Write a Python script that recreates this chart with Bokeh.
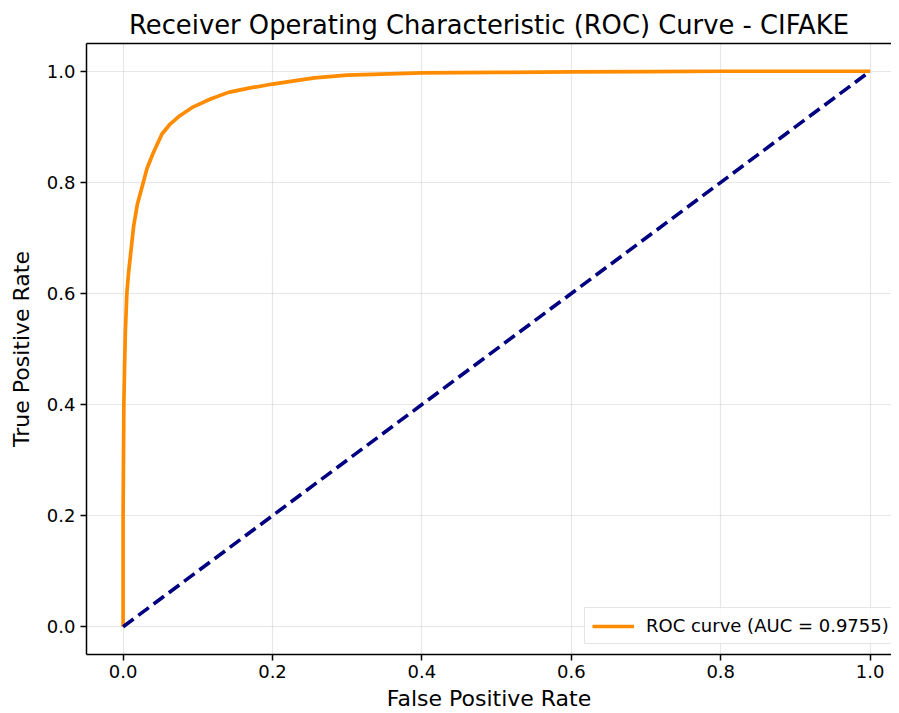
from bokeh.plotting import figure
from bokeh.models import FixedTicker, PrintfTickFormatter, LinearAxis, Legend, LegendItem
from bokeh.embed import file_html
from bokeh.resources import INLINE

# ---- data ----
fpr = [0.0, 0.0, 0.0005, 0.001, 0.002, 0.003, 0.005, 0.0075, 0.010, 0.014, 0.019,
       0.025, 0.032, 0.040, 0.052, 0.063, 0.076, 0.094, 0.117, 0.141, 0.170, 0.200,
       0.256, 0.300, 0.345, 0.400, 0.500, 0.600, 0.700, 0.800, 0.900, 1.0]
tpr = [0.0, 0.20, 0.30, 0.40, 0.47, 0.53, 0.60, 0.64, 0.67, 0.72, 0.76,
       0.79, 0.825, 0.852, 0.887, 0.905, 0.920, 0.936, 0.950, 0.962, 0.970, 0.977,
       0.988, 0.993, 0.995, 0.997, 0.998, 0.999, 0.9995, 1.0, 1.0, 1.0]
diag_x = [0.0, 1.0]
diag_y = [0.0, 1.0]
ticks = [0.0, 0.2, 0.4, 0.6, 0.8, 1.0]
auc_value = 0.9755
title_text = "Receiver Operating Characteristic (ROC) Curve - CIFAKE"
x_label = "False Positive Rate"
y_label = "True Positive Rate"

FONT = "DejaVu Sans"

p = figure(width=891, height=713, output_backend="svg", toolbar_location=None,
           x_range=(-0.049, 1.0286), y_range=(-0.05, 1.05),
           min_border_left=86, min_border_right=0, min_border_top=43, min_border_bottom=55,
           title=title_text)
p.outline_line_color = None
p.background_fill_color = "white"
p.border_fill_color = "white"

p.title.text_font = FONT
p.title.text_font_size = "25.8px"
p.title.text_font_style = "normal"
p.title.align = "center"
p.title.standoff = 7
p.title.offset = 12
p.title.text_color = "black"

roc = p.line(fpr, tpr, line_color="#ff8c00", line_width=3.7)
p.line(diag_x, diag_y, line_color="#000080", line_width=3.6, line_dash="13 6")

for ax in (p.xaxis[0], p.yaxis[0]):
    ax.ticker = FixedTicker(ticks=ticks)
    ax.formatter = PrintfTickFormatter(format="%.1f")
    ax.major_label_text_font = FONT
    ax.major_label_text_font_size = "18px"
    ax.major_label_text_color = "black"
    ax.axis_label_text_font = FONT
    ax.axis_label_text_font_size = "22px"
    ax.axis_label_text_font_style = "normal"
    ax.axis_label_text_color = "black"
    ax.axis_line_color = "black"
    ax.axis_line_width = 1.5
    ax.major_tick_line_color = "black"
    ax.major_tick_line_width = 1.5
    ax.major_tick_out = 6
    ax.major_tick_in = 0
    ax.minor_tick_line_color = None

p.xaxis.axis_label = x_label
p.yaxis.axis_label = y_label
p.xaxis.major_label_standoff = 4
p.xaxis.axis_label_standoff = 5
p.yaxis.major_label_standoff = 5
p.yaxis.axis_label_standoff = 10

top = LinearAxis(ticker=FixedTicker(ticks=[]), major_label_text_font_size="0px",
                 axis_line_color="black", axis_line_width=1.5,
                 major_tick_line_color=None, minor_tick_line_color=None)
p.add_layout(top, "above")

p.grid.ticker = FixedTicker(ticks=ticks)
p.grid.grid_line_color = "#b0b0b0"
p.grid.grid_line_alpha = 0.3
p.grid.grid_line_width = 1.2

legend = Legend(items=[LegendItem(label="ROC curve (AUC = %.4f)" % auc_value, renderers=[roc])],
                location=(498, 10))
legend.label_text_font = FONT
legend.label_text_font_size = "18px"
legend.label_text_color = "black"
legend.glyph_width = 42
legend.glyph_height = 20
legend.label_standoff = 12
legend.padding = 7
legend.margin = 0
legend.border_line_color = "#cccccc"
legend.border_line_width = 1
legend.background_fill_alpha = 0.8
p.add_layout(legend)

open("out.html", "w").write(file_html(p, INLINE))
